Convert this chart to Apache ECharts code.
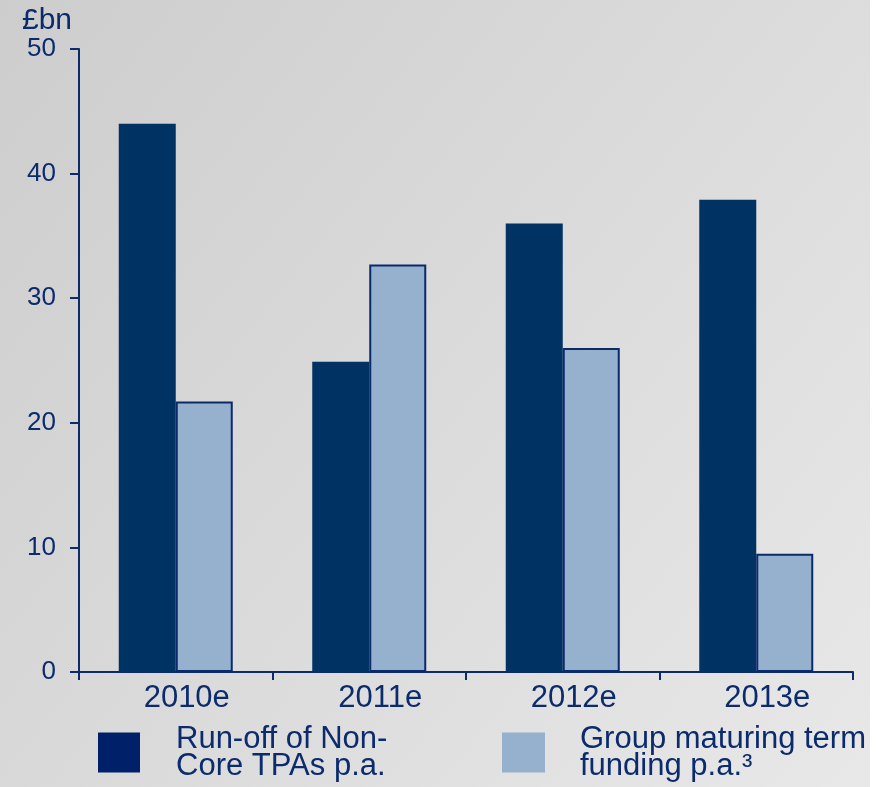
<!DOCTYPE html>
<html>
<head>
<meta charset="utf-8">
<script src="https://cdn.jsdelivr.net/npm/echarts@6/dist/echarts.min.js"></script>
<style>
  html, body { margin: 0; padding: 0; background: #ffffff; }
  #chart { width: 885px; height: 787px; }
</style>
</head>
<body>
<div id="chart"></div>
<script>
// Annual run-off versus maturing term funding, £bn
const categories = ['2010e', '2011e', '2012e', '2013e'];
const runOffNonCore = [44, 24.9, 36, 37.9];
const maturingFunding = [21.7, 32.7, 26, 9.5];
const yTicks = { min: 0, max: 50, interval: 10 };

const seriesNames = ['Run-off of Non-\nCore TPAs p.a.', 'Group maturing term\nfunding p.a.³'];

const navy = '#0b2b6d';
const darkBar = '#003263';
const lightBar = '#95b1cd';
const font = 'Arial, "Liberation Sans", sans-serif';

const chart = echarts.init(document.getElementById('chart'), null, { renderer: 'canvas' });

// Shared legend text style: two lines, tight leading
function legendText(padLeft) {
  return {
    color: navy, fontSize: 31, fontFamily: font, lineHeight: 27, padding: [0, 0, 7, padLeft]
  };
}

chart.setOption({
  animation: false,
  backgroundColor: '#ffffff',
  graphic: [
    {
      type: 'rect',
      z: -10,
      silent: true,
      shape: { x: 0, y: 0, width: 870, height: 787 },
      style: {
        fill: new echarts.graphic.LinearGradient(0, 0, 912, 734, [
          { offset: 0, color: '#cdcdcd' },
          { offset: 1, color: '#e8e8e8' }
        ], true)
      }
    },
    {
      type: 'text',
      left: 22,
      top: 6,
      style: { text: '£bn', font: '30px ' + font, fill: navy }
    }
  ],
  grid: { left: 79, top: 49, right: 32, bottom: 115, containLabel: false },
  xAxis: {
    type: 'category',
    data: categories,
    axisLine: { show: true, lineStyle: { color: navy, width: 2 } },
    axisTick: { show: true, alignWithLabel: false, length: 8, lineStyle: { color: navy, width: 2 } },
    axisLabel: { color: navy, fontSize: 31, fontFamily: font, margin: 11, padding: [0, 0, 0, 22] },
    splitLine: { show: false }
  },
  yAxis: {
    type: 'value',
    min: yTicks.min,
    max: yTicks.max,
    interval: yTicks.interval,
    axisLine: { show: true, lineStyle: { color: navy, width: 2 } },
    axisTick: { show: true, length: 9, lineStyle: { color: navy, width: 2 } },
    axisLabel: { color: navy, fontSize: 26, fontFamily: font, margin: 23 },
    splitLine: { show: false }
  },
  legend: [
    {
      data: [{ name: seriesNames[0], itemStyle: { color: '#00216a', borderWidth: 0 } }],
      left: 98,
      top: 722,
      padding: 0,
      itemWidth: 42,
      itemHeight: 40,
      icon: 'rect',
      selectedMode: false,
      textStyle: legendText(31)
    },
    {
      data: [{ name: seriesNames[1], itemStyle: { color: lightBar, borderWidth: 0 } }],
      left: 502,
      top: 722,
      padding: 0,
      itemWidth: 43,
      itemHeight: 40,
      icon: 'rect',
      selectedMode: false,
      textStyle: legendText(30)
    }
  ],
  series: [
    {
      name: seriesNames[0],
      type: 'bar',
      data: runOffNonCore,
      barWidth: 57,
      barGap: '0%',
      itemStyle: { color: darkBar }
    },
    {
      name: seriesNames[1],
      type: 'bar',
      data: maturingFunding,
      barWidth: 57,
      itemStyle: { color: lightBar, borderColor: '#0a2a6c', borderWidth: 2 }
    }
  ]
});
</script>
</body>
</html>
